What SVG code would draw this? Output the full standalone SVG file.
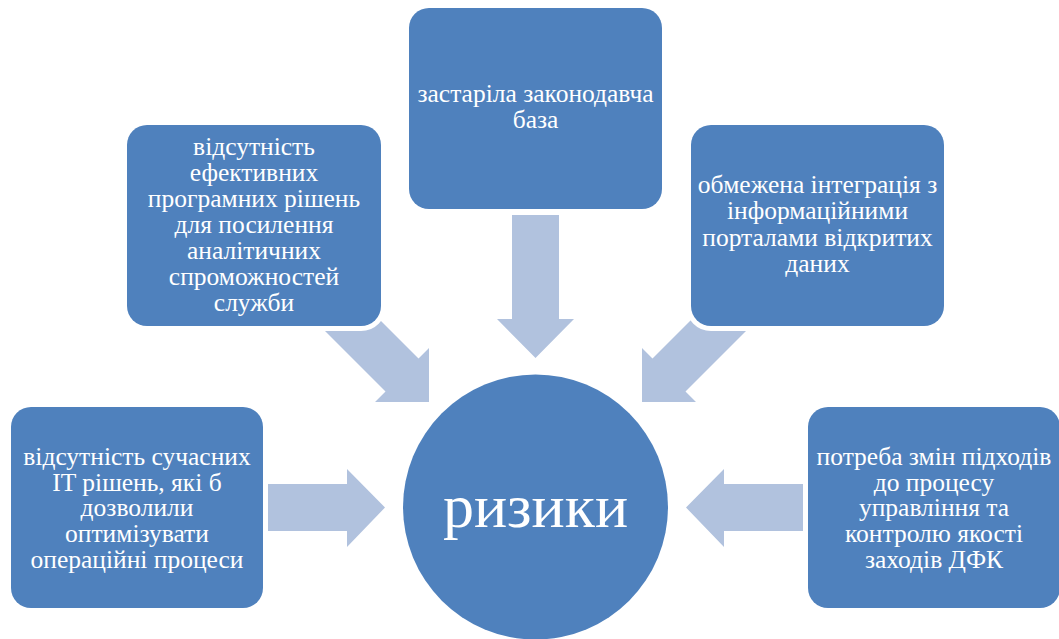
<svg xmlns="http://www.w3.org/2000/svg" width="1059" height="639" viewBox="0 0 1059 639">
<defs>
<style>
.box{fill:#4F81BD;stroke:#fff;stroke-width:10;paint-order:stroke}
.arr{fill:#B1C2DE}
.t{font-family:'Liberation Serif','Times New Roman',serif;font-size:25.5px;fill:#fff;text-anchor:middle}
.big{font-family:'Liberation Serif','Times New Roman',serif;font-size:62px;fill:#fff;text-anchor:middle}
</style>
</defs>
<rect width="1059" height="639" fill="#fff"/>
<g id="connectors">
<polygon class="arr" points="512,215 559,215 559,319 574,319 535.5,358 497,319 512,319"/>
<polygon class="arr" points="268,484 347,484 347,469 385,507.5 347,547 347,531 268,531"/>
<polygon class="arr" points="803,484 724,484 724,469 686,507.5 724,547 724,531 803,531"/>
<polygon class="arr" points="345,285 418.5,358.5 429,348 429,402 375,402 385.5,391.5 312,318"/>
<polygon class="arr" points="726,285 652.5,358.5 642,348 642,402 696,402 685.5,391.5 759,318"/>
</g>
<g id="node-top">
<rect class="box" x="409" y="8" width="253" height="201" rx="20"/>
<text class="t" x="535.5" y="102">застаріла законодавча</text>
<text class="t" x="535.5" y="128">база</text>
</g>
<g id="node-upper-left">
<rect class="box" x="127" y="125" width="254" height="201" rx="20"/>
<text class="t" x="254" y="155">відсутність</text>
<text class="t" x="254" y="181">ефективних</text>
<text class="t" x="254" y="207">програмних рішень</text>
<text class="t" x="254" y="233">для посилення</text>
<text class="t" x="254" y="259">аналітичних</text>
<text class="t" x="254" y="285">спроможностей</text>
<text class="t" x="254" y="311">служби</text>
</g>
<g id="node-upper-right">
<rect class="box" x="691" y="125" width="253" height="201" rx="20"/>
<text class="t" x="817.5" y="193">обмежена інтеграція з</text>
<text class="t" x="817.5" y="219">інформаційними</text>
<text class="t" x="817.5" y="246">порталами відкритих</text>
<text class="t" x="817.5" y="272">даних</text>
</g>
<g id="node-lower-left">
<rect class="box" x="11" y="407" width="252" height="201" rx="20"/>
<text class="t" x="137" y="465">відсутність сучасних</text>
<text class="t" x="137" y="491">IT рішень, які б</text>
<text class="t" x="137" y="516">дозволили</text>
<text class="t" x="137" y="542">оптимізувати</text>
<text class="t" x="137" y="568">операційні процеси</text>
</g>
<g id="node-lower-right">
<rect class="box" x="808" y="407" width="252" height="201" rx="20"/>
<text class="t" x="934" y="465">потреба змін підходів</text>
<text class="t" x="934" y="491">до процесу</text>
<text class="t" x="934" y="516">управління та</text>
<text class="t" x="934" y="542">контролю якості</text>
<text class="t" x="934" y="568">заходів ДФК</text>
</g>
<g id="node-center">
<circle cx="535.5" cy="507" r="132.5" fill="#4F81BD"/>
<text class="big" x="535.5" y="527">ризики</text>
</g>
</svg>
